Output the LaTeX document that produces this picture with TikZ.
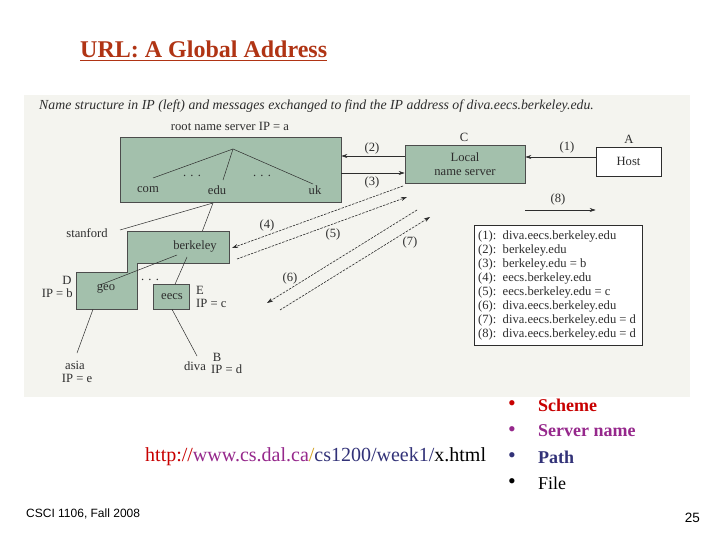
\documentclass[tikz,border=0pt]{standalone}
\usepackage{fontspec}
\setmainfont{Liberation Serif}
\newfontfamily\sansf{Liberation Sans}
\usetikzlibrary{arrows.meta}
\definecolor{boxgreen}{RGB}{163,192,172}
\definecolor{scanbg}{RGB}{244,244,239}
\definecolor{titlered}{RGB}{176,52,20}
\definecolor{urlred}{RGB}{200,0,0}
\definecolor{urlpurple}{RGB}{150,40,140}
\definecolor{urlgold}{RGB}{210,160,30}
\definecolor{urlblue}{RGB}{50,50,120}
\definecolor{ink}{RGB}{45,45,45}
\begin{document}
\begin{tikzpicture}[x=1pt,y=-1pt,
  lbl/.style={inner sep=0pt, font=\fontsize{12.6}{14}\selectfont, text=ink},
  gbox/.style={draw=ink!85, fill=boxgreen, line width=0.6pt, inner sep=0pt},
  tline/.style={draw=ink, line width=0.5pt},
  msg/.style={draw=ink, line width=0.6pt, -{Stealth[length=6pt,width=4pt]}},
  dmsg/.style={msg, dash pattern=on 2.5pt off 1.2pt},
  bul/.style={inner sep=0pt, font=\fontsize{22}{22}\selectfont},
  itm/.style={inner sep=0pt, anchor=west, font=\fontsize{18}{20}\selectfont}]
\useasboundingbox (0,0) rectangle (720,540);
\fill[white] (0,0) rectangle (720,540);
% title
\node[inner sep=0pt, anchor=west, text=titlered, font=\fontsize{24}{26}\selectfont\bfseries] (title) at (80,49) {URL: A Global Address};
\coordinate (ul) at (0,60.5);
\draw[titlered, line width=1.3pt] (title.west |- ul) -- (title.east |- ul);
% scanned figure area
\fill[scanbg] (24,95) rectangle (690,397);
\node[inner sep=0pt, anchor=west, text=ink, font=\fontsize{13.8}{15}\selectfont\itshape] (cap) at (39,106) {Name structure in IP (left) and messages exchanged to find the IP address of diva.eecs.berkeley.edu.};
% root name server
\node[gbox, minimum width=221pt, minimum height=65pt] (root) at (230.5,169.5) {};
\node[lbl] (rootlbl) at (230,126) {root name server IP = a};
\coordinate (apex) at (233,149);
\coordinate (comE) at (153,178);
\coordinate (eduE) at (223,180);
\coordinate (ukE) at (313,184);
\draw[tline] (comE) -- (apex) -- (ukE);
\draw[tline] (apex) -- (eduE);
\node[lbl] (com) at (148,190) {com};
\node[lbl] (edu) at (217,190) {edu};
\node[lbl] (uk) at (315,190) {uk};
\node[lbl] (dots1) at (192,176) {. . .};
\node[lbl] (dots2) at (262,176) {. . .};
% local name server and host
\node[gbox, minimum width=120pt, minimum height=38pt, align=center, font=\fontsize{12.6}{14}\selectfont, text=ink] (local) at (465,164) {Local\\name server};
\node[lbl] (C) at (464,137) {C};
\node[draw=ink, line width=0.6pt, fill=white, minimum width=65pt, minimum height=29pt, inner sep=0pt, font=\fontsize{12.6}{14}\selectfont, text=ink] (host) at (628.5,161.5) {Host};
\node[lbl] (A) at (629,139) {A};
% messages 1,2,3,8
\coordinate (y1) at (0,157);
\coordinate (y2) at (0,156);
\coordinate (y3) at (0,173);
\coordinate (y8) at (0,210);
\draw[msg] (host.west |- y1) -- (local.east |- y1);
\node[lbl] (m1) at (567,147) {(1)};
\draw[msg] (local.west |- y2) -- (root.east |- y2);
\node[lbl] (m2) at (372,148) {(2)};
\draw[msg] (root.east |- y3) -- (local.west |- y3);
\node[lbl] (m3) at (372,182) {(3)};
\draw[msg] (local.east |- y8) -- (host.west |- y8);
\node[lbl] (m8) at (558,199) {(8)};
% edu subtree
\coordinate (eduB) at (213,203);
\coordinate (stanE) at (120,230);
\coordinate (berkT) at (202,232);
\draw[tline] (eduB) -- (stanE);
\draw[tline] (eduB) -- (berkT);
\node[lbl] (stanford) at (87,233) {stanford};
% berkeley + geo shape
\draw[gbox] (127.7,231.7) -- (229,231.7) -- (229,263.3) -- (137.3,263.3) -- (137.3,309.3) -- (76.7,309.3) -- (76.7,272.7) -- (127.7,272.7) -- cycle;
\node[lbl] (berkeley) at (195,246) {berkeley};
\node[lbl] (geo) at (106,289) {geo};
\node[gbox, minimum width=36pt, minimum height=25pt] (eecsbox) at (171.2,296.8) {};
\node[lbl] (eecs) at (172,297) {eecs};
\node[lbl] (dots3) at (150,280) {. . .};
\coordinate (bkA) at (177,255);
\coordinate (geoA) at (100,285);
\coordinate (bkB) at (187,257);
\coordinate (eecsT) at (175,284.3);
\draw[tline] (bkA) -- (geoA);
\draw[tline] (bkB) -- (eecsT);
\node[lbl] (D) at (67,280) {D};
\node[lbl, anchor=east] (ipb) at (73,293) {IP = b};
\node[lbl, anchor=west] (E) at (196,290) {E};
\node[lbl, anchor=west] (ipc) at (196,303) {IP = c};
\coordinate (geoB) at (93,309.3);
\coordinate (asiaE) at (77,353);
\coordinate (eecsB) at (172,309.3);
\coordinate (divaE) at (197,356);
\draw[tline] (geoB) -- (asiaE);
\draw[tline] (eecsB) -- (divaE);
\node[lbl] (asia) at (75,365) {asia};
\node[lbl] (ipe) at (77,378) {IP = e};
\node[lbl] (diva) at (195,366) {diva};
\node[lbl] (B) at (217,357) {B};
\node[lbl, anchor=west] (ipd) at (211,369) {IP = d};
% messages 4-7
\coordinate (s4) at (403,186);
\coordinate (e4) at (232,248);
\coordinate (s5) at (237,259);
\coordinate (e5) at (407,197);
\coordinate (s6) at (417,210);
\coordinate (e6) at (267,303);
\coordinate (s7) at (280,310);
\coordinate (e7) at (430,217);
\draw[dmsg] (s4) -- (e4);
\draw[dmsg] (s5) -- (e5);
\draw[dmsg] (s6) -- (e6);
\draw[dmsg] (s7) -- (e7);
\node[lbl] (m4) at (267,225) {(4)};
\node[lbl] (m5) at (333,234) {(5)};
\node[lbl] (m6) at (290,278) {(6)};
\node[lbl] (m7) at (410,242) {(7)};
% legend
\node[draw=ink, line width=0.6pt, fill=white, minimum width=168.5pt, minimum height=120pt, inner sep=0pt] (legend) at (558.5,285) {};
\node[inner sep=0pt, anchor=north west, align=left, text=ink, font=\fontsize{12.6}{14}\selectfont] (legtext) at (478,230.5) {(1):\ \ diva.eecs.berkeley.edu\\(2):\ \ berkeley.edu\\(3):\ \ berkeley.edu = b\\(4):\ \ eecs.berkeley.edu\\(5):\ \ eecs.berkeley.edu = c\\(6):\ \ diva.eecs.berkeley.edu\\(7):\ \ diva.eecs.berkeley.edu = d\\(8):\ \ diva.eecs.berkeley.edu = d};
% URL
\node[inner sep=0pt, anchor=west, font=\fontsize{20}{22}\selectfont] (url) at (145,457) {\textcolor{urlred}{http://}\textcolor{urlpurple}{www.cs.dal.ca}\textcolor{urlgold}{/}\textcolor{urlblue}{cs1200/week1/}x.html};
% bullets
\node[bul, text=urlred] (b1) at (512,406) {•};
\node[itm, text=urlred, font=\fontsize{18}{20}\selectfont\bfseries] (i1) at (538,405) {Scheme};
\node[bul, text=urlpurple] (b2) at (512,432) {•};
\node[itm, text=urlpurple, font=\fontsize{18}{20}\selectfont\bfseries] (i2) at (538,431) {Server name};
\node[bul, text=urlblue] (b3) at (512,458) {•};
\node[itm, text=urlblue, font=\fontsize{18}{20}\selectfont\bfseries] (i3) at (538,457) {Path};
\node[bul] (b4) at (512,484) {•};
\node[itm] (i4) at (538,483) {File};
% footer
\node[inner sep=0pt, anchor=west, font=\sansf\fontsize{12}{14}\selectfont] (foot) at (26,514) {CSCI 1106, Fall 2008};
\node[inner sep=0pt, anchor=east, font=\sansf\fontsize{13.5}{15}\selectfont] (page) at (700,518) {25};
\end{tikzpicture}
\end{document}
